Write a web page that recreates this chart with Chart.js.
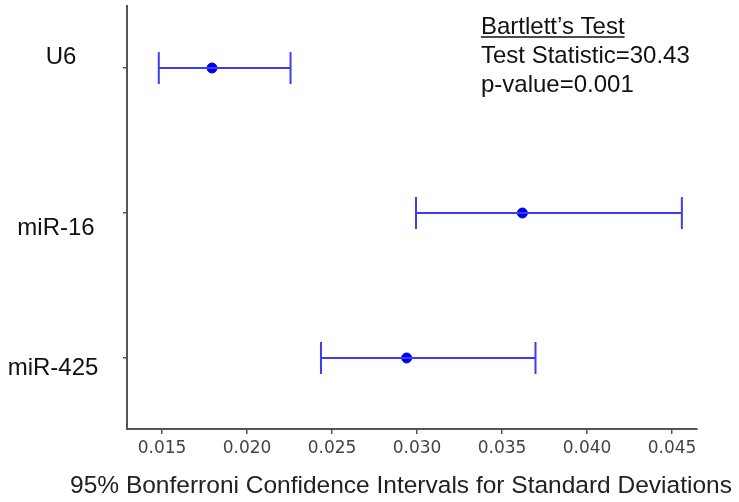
<!DOCTYPE html>
<html>
  <head>
    <script src="https://cdn.jsdelivr.net/npm/chart.js"></script>
    <title>Bonferroni intervals</title>
    <style>
      body {
        margin: 0;
        background-color: white;
      }
      #wrap {
        width: 739px;
        height: 502px;
      }
    </style>
  </head>
  <body>
    <div id="wrap">
      <canvas id="ciChart" width="739" height="502"></canvas>
    </div>

    <script>
      // values
      const categories = ['U6', 'miR-16', 'miR-425'];
      const lowerCI = [0.01481, 0.02994, 0.02435];
      const stdDev = [0.01794, 0.03620, 0.02939];
      const upperCI = [0.02256, 0.04558, 0.03697];
      const xTicks = [0.015, 0.020, 0.025, 0.030, 0.035, 0.040, 0.045];
      const xTitle = '95% Bonferroni Confidence Intervals for Standard Deviations';
      const testLines = ['Bartlett\u2019s Test', 'Test Statistic=30.43', 'p-value=0.001'];

      const barColor = 'rgb(60, 60, 245)';
      const dotColor = 'rgb(0, 0, 240)';

      // one line per category: the interval, with vertical caps
      const intervalSets = categories.map((name, i) => ({
        label: name,
        data: [{ x: lowerCI[i], y: i }, { x: upperCI[i], y: i }],
        borderColor: barColor,
        borderWidth: 2,
        pointStyle: 'line',
        pointRotation: 90,
        pointRadius: 16,
        pointBorderWidth: 2,
        pointBorderColor: barColor,
        showLine: true,
        fill: false,
      }));

      const dotSet = {
        label: 'StDev',
        data: categories.map((name, i) => ({ x: stdDev[i], y: i })),
        backgroundColor: dotColor,
        borderColor: dotColor,
        pointStyle: 'circle',
        pointRadius: 5,
        showLine: false,
      };

      // category names, axis title and the test box, drawn as text
      const textPlugin = {
        id: 'texts',
        afterDraw(chart) {
          const ctx = chart.ctx;
          const y = chart.scales.y;
          const labelDx = [5, 0, -3];
          const labelDy = [-11, 15, 10];
          ctx.save();
          ctx.fillStyle = '#111';
          ctx.font = '24px "Liberation Sans", Arial, sans-serif';
          ctx.textAlign = 'center';
          ctx.textBaseline = 'middle';
          categories.forEach((name, i) => {
            ctx.fillText(name, 56 + labelDx[i], y.getPixelForValue(i) + labelDy[i]);
          });

          ctx.textBaseline = 'alphabetic';
          ctx.fillStyle = '#222';
          ctx.font = '24.5px "Liberation Sans", Arial, sans-serif';
          ctx.fillText(xTitle, 401, 493);

          ctx.fillStyle = '#111';
          ctx.font = '24px "Liberation Sans", Arial, sans-serif';
          ctx.textAlign = 'left';
          const left = 481;
          const base = [34, 63, 92];
          testLines.forEach((t, i) => ctx.fillText(t, left, base[i]));
          const w = ctx.measureText(testLines[0]).width;
          ctx.strokeStyle = '#111';
          ctx.lineWidth = 1.5;
          ctx.beginPath();
          ctx.moveTo(left, base[0] + 3);
          ctx.lineTo(left + w, base[0] + 3);
          ctx.stroke();
          ctx.restore();
        },
      };

      const ctx = document.getElementById('ciChart').getContext('2d');
      new Chart(ctx, {
        type: 'scatter',
        data: { datasets: [...intervalSets, dotSet] },
        plugins: [textPlugin],
        options: {
          responsive: false,
          animation: false,
          layout: { autoPadding: false, padding: { top: 6, right: 42, bottom: 0, left: 0 } },
          plugins: {
            legend: { display: false },
            tooltip: { enabled: false },
          },
          scales: {
            x: {
              type: 'linear',
              min: 0.01294,
              max: 0.04647,
              afterBuildTicks: (scale) => {
                scale.ticks = xTicks.map(v => ({ value: v }));
              },
              afterFit: (scale) => { scale.height = 73; },
              border: { display: true, color: '#555', width: 2 },
              grid: { drawOnChartArea: false, drawTicks: true, tickLength: 5, color: '#555', lineWidth: 1.5 },
              ticks: {
                color: '#444',
                padding: 4,
                maxRotation: 0,
                font: { family: 'DejaVu Sans', size: 17 },
                callback: (v) => v.toFixed(3),
              },
            },
            y: {
              type: 'linear',
              reverse: true,
              min: -0.428,
              max: 2.49,
              afterBuildTicks: (scale) => {
                scale.ticks = categories.map((c, i) => ({ value: i }));
              },
              afterFit: (scale) => { scale.width = 127; },
              border: { display: true, color: '#555', width: 2 },
              grid: { drawOnChartArea: false, drawTicks: true, tickLength: 4, color: '#555', lineWidth: 1.5 },
              ticks: { display: false },
            },
          },
        },
      });
    </script>
  </body>
</html>
